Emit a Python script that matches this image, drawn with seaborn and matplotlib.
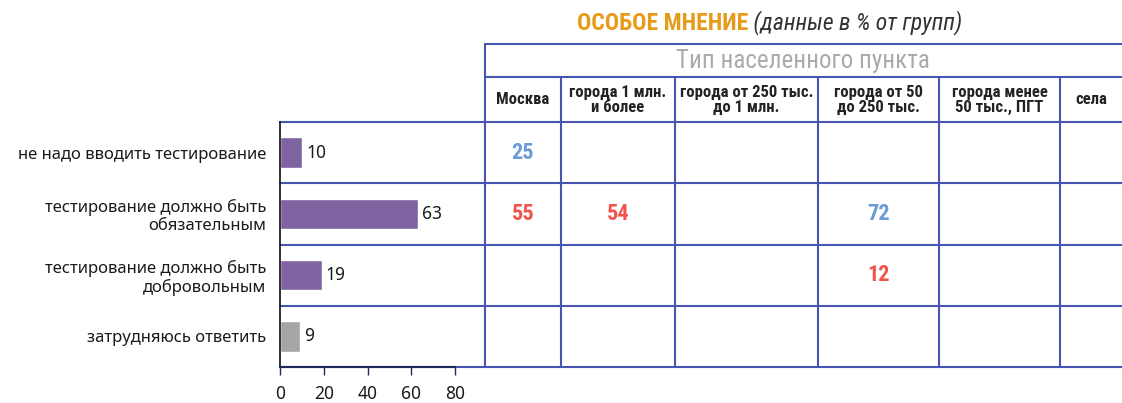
import matplotlib
matplotlib.use('Agg')
import matplotlib.pyplot as plt
import matplotlib.font_manager as fm
import seaborn as sns
import pandas as pd

# --- data ---
answers = ['не надо вводить тестирование',
           'тестирование должно быть\nобязательным',
           'тестирование должно быть\nдобровольным',
           'затрудняюсь ответить']
shares = [10, 63, 19, 9]
bar_colors = ['#8064a2', '#8064a2', '#8064a2', '#a6a6a6']

groups = ['Москва', 'города 1 млн.\nи более', 'города от 250 тыс.\nдо 1 млн.',
          'города от 50\nдо 250 тыс.', 'города менее\n50 тыс., ПГТ', 'села']
# notable deviations: (answer row, group column, value, kind)
cell_rows = [0, 1, 1, 1, 2]
cell_cols = [0, 0, 1, 3, 3]
cell_vals = [25, 55, 54, 72, 12]
cell_kind = ['low', 'high', 'high', 'low', 'high']

x_ticks = [0, 20, 40, 60, 80]


# --- fonts: look for a condensed face, fall back to DejaVu Sans ---
def find_narrow(bold=False, italic=False):
    cands = []
    for f in fm.fontManager.ttflist:
        key = (f.name + ' ' + f.fname).lower()
        if not ('condensed' in key or 'narrow' in key or f.stretch in ('condensed', 'semi-condensed')):
            continue
        if 'mono' in key or 'serif' in key and 'sans' not in key:
            continue
        is_bold = f.weight in ('bold', 700, 600, 'semibold', 'demibold') or 'bold' in f.fname.lower()
        is_ital = f.style in ('italic', 'oblique')
        if is_bold != bold or is_ital != italic:
            continue
        if 'light' in f.fname.lower() or 'black' in f.fname.lower() or 'medium' in f.fname.lower():
            continue
        rank = 0 if 'roboto' in key else 1 if 'liberation' in key else 2 if 'dejavu' in key else 3
        cands.append((rank, f.fname))
    if cands:
        return fm.FontProperties(fname=sorted(cands)[0][1])
    return fm.FontProperties(family='DejaVu Sans', weight='bold' if bold else 'normal',
                             style='italic' if italic else 'normal')


nar = find_narrow()
nar_b = find_narrow(bold=True)
nar_i = find_narrow(italic=True)

sns.set_theme(style='white')
names = {f.name for f in fm.fontManager.ttflist}
base = 'Noto Sans' if 'Noto Sans' in names else 'DejaVu Sans'
plt.rcParams['font.family'] = [base, 'DejaVu Sans']

W, H = 1122, 403
fig = plt.figure(figsize=(W / 100, H / 100), dpi=100)

# overlay in pixel coordinates for the table grid
tab = fig.add_axes([0, 0, 1, 1])
tab.set_xlim(0, W)
tab.set_ylim(H, 0)
tab.axis('off')

# bar chart axes
x0, x1 = 280, 455
y_top, y_bot = 122, 367
ax = fig.add_axes([x0 / W, 1 - y_bot / H, (x1 - x0) / W, (y_bot - y_top) / H])
ax.patch.set_alpha(0)

df = pd.DataFrame({'answer': answers, 'share': shares})
sns.barplot(data=df, y='answer', x='share', hue='answer', palette=bar_colors,
            legend=False, width=0.5, ax=ax, saturation=1)
for c in ax.containers:
    ax.bar_label(c, padding=3, fontsize=12.5, color='#1a1a1a')
ax.set_xlim(0, 80)
ax.set_ylim(len(answers) - 0.5, -0.5)
ax.set_xticks(x_ticks)
ax.set_xlabel('')
ax.set_ylabel('')
ax.tick_params(axis='y', length=0, pad=10, labelsize=12, labelcolor='#1a1a1a')
ax.tick_params(axis='x', length=6, width=1, direction='out', color='#1f2a5a',
               pad=7, labelsize=12.5, labelcolor='#1a1a1a', bottom=True)
for lab in ax.get_yticklabels():
    lab.set_horizontalalignment('right')
    lab.set_multialignment('right')
    lab.set_linespacing(1.15)
sns.despine(ax=ax, top=True, right=True)
ax.spines['left'].set_color('#111111')
ax.spines['left'].set_linewidth(1.2)
ax.spines['bottom'].set_color('#1f2a5a')
ax.spines['bottom'].set_linewidth(1.5)

# table grid
line_c = '#4656b0'
col_edges = [485, 561, 675, 818, 939, 1060, 1190]
row_h = (y_bot - y_top) / len(answers)
row_edges = [y_top + i * row_h for i in range(len(answers) + 1)]
for y in row_edges:
    tab.plot([x0, W], [y, y], color=line_c, lw=1.5, zorder=1)
tab.plot([col_edges[0], W], [44, 44], color=line_c, lw=1.5)
tab.plot([col_edges[0], W], [77, 77], color=line_c, lw=1.5)
tab.plot([col_edges[0], col_edges[0]], [44, y_bot], color=line_c, lw=1.5)
for xc in col_edges[1:-1]:
    tab.plot([xc, xc], [77, y_bot], color=line_c, lw=1.5)

# headers
t1 = tab.text(577, 23, 'ОСОБОЕ МНЕНИЕ', fontproperties=nar_b, fontsize=17,
              color='#e89a1a', va='center', ha='left')
tab.annotate(' (данные в % от групп)', xy=(1, 0.5), xycoords=t1, fontproperties=nar_i,
             fontsize=17, color='#333333', va='center', ha='left')
tab.text(803, 61, 'Тип населенного пункта', fontproperties=nar, fontsize=18,
         color='#aaaaaa', va='center', ha='center')
for j, g in enumerate(groups):
    cx = (col_edges[j] + col_edges[j + 1]) / 2
    if j == len(groups) - 1:
        cx = 1091
    tab.text(cx, 100, g, fontproperties=nar_b, fontsize=12, color='#222222',
             va='center', ha='center', linespacing=0.95)

kind_color = {'low': '#6a9bd4', 'high': '#f0554c'}
for r, c, v, k in zip(cell_rows, cell_cols, cell_vals, cell_kind):
    cx = (col_edges[c] + col_edges[c + 1]) / 2
    cy = y_top + (r + 0.5) * row_h
    tab.text(cx, cy, str(v), fontproperties=nar_b, fontsize=16, color=kind_color[k],
             va='center', ha='center')

fig.savefig('out.png', dpi=100)
